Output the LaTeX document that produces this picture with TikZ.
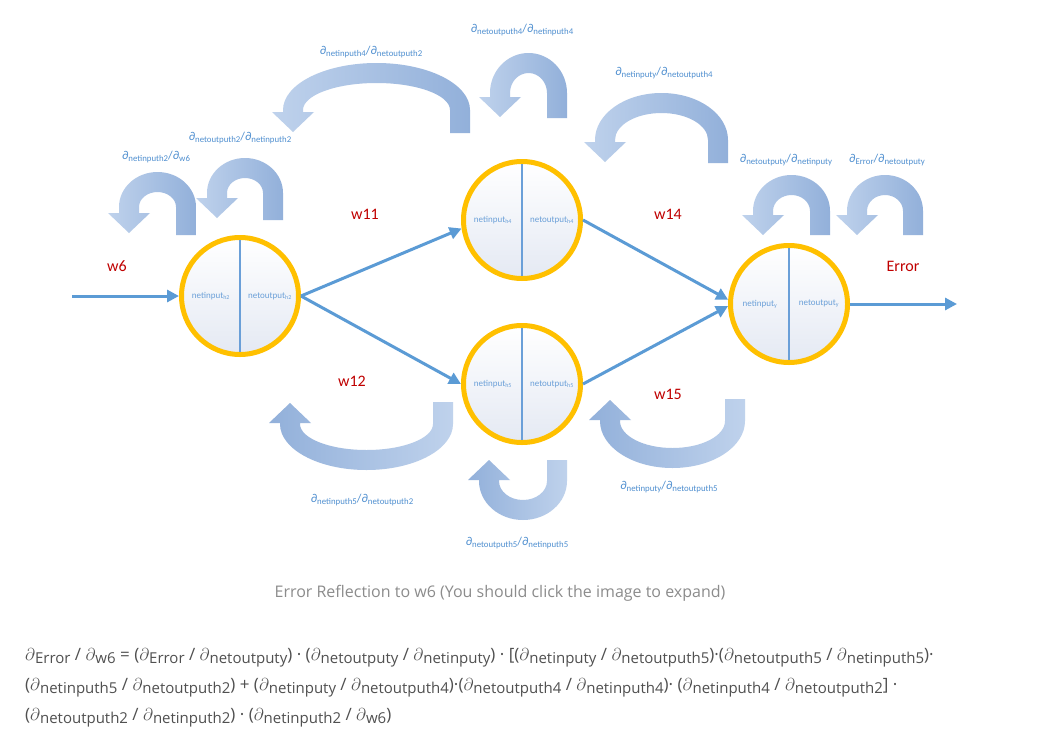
\documentclass[tikz,border=0pt]{standalone}
\usepackage{fontspec}
\setmainfont{Open Sans}
\newfontfamily\diagfont{Carlito}
\usepackage{tikz}
\usetikzlibrary{arrows.meta}

\definecolor{linkblue}{HTML}{5B9BD5}
\definecolor{cellblue}{HTML}{6A9FD8}
\definecolor{labelblue}{HTML}{4F8FD0}
\definecolor{ringgold}{HTML}{FFC000}
\definecolor{cellfill}{HTML}{E4E9F3}
\definecolor{weightred}{HTML}{C00000}
\definecolor{arrowlight}{HTML}{BFD2EC}
\definecolor{arrowdark}{HTML}{92B0DA}
\definecolor{captiongray}{HTML}{8C8C8C}
\definecolor{formulagray}{HTML}{505050}

% small lowered text for the gradient labels
\newcommand{\lsub}[1]{\raisebox{-2.4pt}{\fontsize{8.8}{9}\selectfont #1}}
\newcommand{\pdiv}[2]{∂\lsub{#1}/∂\lsub{#2}}
% the same for the formula under the picture
\newcommand{\fd}[1]{$\partial$\raisebox{-3pt}{\fontsize{15}{15}\selectfont #1}}
% u-turn block arrow: cx, cy, rx, ry, leg, head base, flip, style
\newcommand{\turnarrow}[8]{%
  \begin{scope}[shift={(#1,#2)},yscale=#7]
    \shade[#8] (#3+10,#5) -- (#3+10,0)
      arc[start angle=0,end angle=-180,x radius=#3+10,y radius=#4+10]
      -- (-#3-10,#6) -- (-#3-21,#6) -- (-#3,#6+20) -- (-#3+21,#6) -- (-#3+10,#6) -- (-#3+10,0)
      arc[start angle=-180,end angle=0,x radius=#3-10,y radius=#4-10]
      -- (#3-10,#5) -- cycle;
  \end{scope}}

\begin{document}
\begin{tikzpicture}[x=1pt,y=-1pt,>={Triangle[length=12pt,width=12pt]},
    neuron/.style={circle,draw=ringgold,line width=5pt,minimum size=117pt,inner sep=0pt,
      top color=white,bottom color=cellfill},
    half/.style={font=\diagfont\fontsize{9}{9}\selectfont,text=cellblue},
    divider/.style={draw=cellblue,line width=1.2pt,shorten >=5pt,shorten <=5pt},
    link/.style={->,draw=linkblue,line width=3pt},
    weight/.style={font=\diagfont\fontsize{16}{17}\selectfont,text=weightred},
    grad/.style={font=\diagfont\fontsize{12}{13}\selectfont,text=labelblue},
    upturn/.style={left color=arrowlight,right color=arrowdark},
    downturn/.style={left color=arrowdark,right color=arrowlight}]

  \path[fill=white] (0,0) rectangle (1043,744);

  % block arrows above and below
  \turnarrow{157.5}{207}{28.5}{25}{28}{6}{1}{upturn}
  \turnarrow{245}{193}{28}{25}{27}{5}{1}{upturn}
  \turnarrow{376.5}{110}{83.5}{37}{23}{2}{1}{upturn}
  \turnarrow{528.5}{93}{28.5}{30}{25}{4}{1}{upturn}
  \turnarrow{661.5}{140}{56.5}{37}{23}{2}{1}{upturn}
  \turnarrow{791.5}{211}{28.5}{26}{24}{4}{1}{upturn}
  \turnarrow{885}{211}{28}{26}{24}{4}{1}{upturn}
  \turnarrow{366.5}{424}{76.5}{36}{22}{1}{-1}{downturn}
  \turnarrow{523}{481}{34}{29}{21}{1}{-1}{downturn}
  \turnarrow{672.5}{421}{62.5}{37}{22}{1}{-1}{downturn}

  % neurons
  \node[neuron] (h2) at (240,296) {};
  \node[neuron] (h4) at (522,220) {};
  \node[neuron] (h5) at (522,384) {};
  \node[neuron] (y) at (789,304) {};

  \foreach \n in {h2,h4,h5,y}
    \draw[divider] (\n.north) -- (\n.south);

  \node[half] (h2in) at ([xshift=-29pt]h2.center) {netinput\textsubscript{h2}};
  \node[half] (h2out) at ([xshift=30pt]h2.center) {netoutput\textsubscript{h2}};
  \node[half] (h4in) at ([xshift=-29pt]h4.center) {netinput\textsubscript{h4}};
  \node[half] (h4out) at ([xshift=30pt]h4.center) {netoutput\textsubscript{h4}};
  \node[half] (h5in) at ([xshift=-29pt]h5.center) {netinput\textsubscript{h5}};
  \node[half] (h5out) at ([xshift=30pt]h5.center) {netoutput\textsubscript{h5}};
  \node[half] (yin) at ([xshift=-29pt]y.center) {netinput\textsubscript{y}};
  \node[half] (yout) at ([xshift=30pt]y.center) {netoutput\textsubscript{y}};

  % links
  \coordinate (in) at (72,296);
  \coordinate (out) at (957,304);
  \draw[link] (in) -- (h2);
  \draw[link] (h2.east) -- (h4.188);
  \draw[link] (h2.east) -- (h5.west);
  \draw[link] (h4.east) -- (y.176);
  \draw[link] (h5.east) -- (y.182);
  \draw[link] (y.east) -- (out);

  \node[weight] (w6) at (117,266) {w6};
  \node[weight] (w11) at (365,214) {w11};
  \node[weight] (w12) at (352,381) {w12};
  \node[weight] (w14) at (668,214) {w14};
  \node[weight] (w15) at (668,394) {w15};
  \node[weight] (err) at (903,266) {Error};

  % gradient labels
  \node[grad] (g1) at (156,157) {\pdiv{netinputh2}{w6}};
  \node[grad] (g2) at (240,138) {\pdiv{netoutputh2}{netinputh2}};
  \node[grad] (g3) at (371,52) {\pdiv{netinputh4}{netoutputh2}};
  \node[grad] (g4) at (522,30) {\pdiv{netoutputh4}{netinputh4}};
  \node[grad] (g5) at (664,73) {\pdiv{netinputy}{netoutputh4}};
  \node[grad] (g6) at (786,160) {\pdiv{netoutputy}{netinputy}};
  \node[grad] (g7) at (887,160) {\pdiv{Error}{netoutputy}};
  \node[grad] (g8) at (362,500) {\pdiv{netinputh5}{netoutputh2}};
  \node[grad] (g9) at (517,543) {\pdiv{netoutputh5}{netinputh5}};
  \node[grad] (g10) at (669,487) {\pdiv{netinputy}{netoutputh5}};

  \node[font=\fontsize{16}{17}\selectfont,text=captiongray] (caption) at (500,593)
    {Error Reflection to w6 (You should click the image to expand)};

  % chain rule
  \begin{scope}[every node/.style={anchor=west,inner sep=0pt,text=formulagray,font=\fontsize{17}{19}\selectfont}]
    \node (f1) at (25,658) {\fd{Error} / \fd{w6} = (\fd{Error} / \fd{netoutputy}) · (\fd{netoutputy} / \fd{netinputy}) · [(\fd{netinputy} / \fd{netoutputh5})·(\fd{netoutputh5} / \fd{netinputh5})·};
    \node (f2) at (25,688) {(\fd{netinputh5} / \fd{netoutputh2}) + (\fd{netinputy} / \fd{netoutputh4})·(\fd{netoutputh4} / \fd{netinputh4})· (\fd{netinputh4} / \fd{netoutputh2}] ·};
    \node (f3) at (25,718) {(\fd{netoutputh2} / \fd{netinputh2}) · (\fd{netinputh2} / \fd{w6})};
  \end{scope}
\end{tikzpicture}
\end{document}
